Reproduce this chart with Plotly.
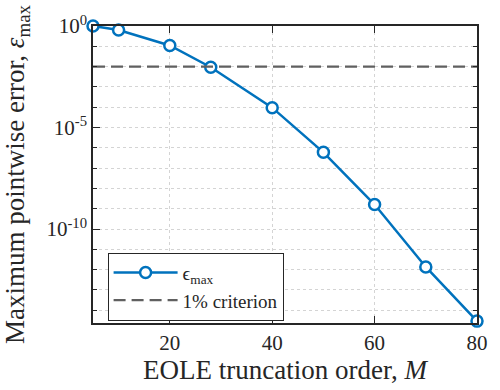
import plotly.graph_objects as go

# Data
M_values = [5, 10, 20, 28, 40, 50, 60, 70, 80]
eps_max = [1.0, 0.64, 0.11, 0.0093, 9.5e-5, 6.0e-7, 1.6e-9, 1.35e-12, 2.9e-15]
criterion = 0.01
x_ticks = [20, 40, 60, 80]
y_major = [1, 1e-5, 1e-10]
y_major_text = ["10<sup>0</sup>", "10<sup>-5</sup>", "10<sup>-10</sup>"]
y_minor = [10.0 ** (-k) for k in range(1, 15) if k not in (5, 10)]

BLUE = "#0072BD"
GRID = "#d4d4d4"
INK = "#262626"
FONT = "Liberation Serif"

fig = go.Figure()
fig.add_trace(go.Scatter(
    x=M_values, y=eps_max, mode="lines+markers",
    name="\u03f5<sub>max</sub>",
    line=dict(color=BLUE, width=2.5),
    marker=dict(symbol="circle", size=11, color="white",
                line=dict(color=BLUE, width=2.5)),
    cliponaxis=False,
))
fig.add_trace(go.Scatter(
    x=[min(M_values), max(M_values)], y=[criterion, criterion],
    mode="lines", name="1% criterion",
    line=dict(color="#606060", width=2.2, dash="12px,6px"),
))

fig.update_layout(
    width=500, height=390,
    margin=dict(l=93, r=15, t=23, b=67),
    paper_bgcolor="white", plot_bgcolor="white",
    font=dict(family=FONT, size=20, color=INK),
    showlegend=True,
    legend=dict(
        x=0.038, y=0.237, xanchor="left", yanchor="top",
        bgcolor="white", bordercolor=INK, borderwidth=1,
        font=dict(family=FONT, size=19, color=INK),
        itemwidth=64, tracegroupgap=0,
    ),
)

fig.update_xaxes(
    range=[5, 80],
    tickvals=x_ticks,
    ticks="inside", ticklen=7, tickwidth=1, tickcolor=INK,
    showline=True, linecolor=INK, linewidth=1.5, mirror="ticks",
    showgrid=True, gridcolor=GRID, griddash="dot", gridwidth=1,
    zeroline=False,
    tickfont=dict(family=FONT, size=21, color=INK),
    title=dict(text="EOLE truncation order, <i>M</i>",
               font=dict(family=FONT, size=27, color=INK), standoff=4),
)
fig.update_yaxes(
    type="log",
    range=[-14.63, 0],
    tickvals=y_major, ticktext=y_major_text,
    ticks="inside", ticklen=7, tickwidth=1, tickcolor=INK,
    showline=True, linecolor=INK, linewidth=1.5, mirror="ticks",
    showgrid=True, gridcolor=GRID, griddash="dot", gridwidth=1,
    zeroline=False,
    tickfont=dict(family=FONT, size=21, color=INK),
    minor=dict(tickvals=y_minor, ticks="inside", ticklen=4, tickcolor=INK,
               showgrid=True, gridcolor=GRID, griddash="dot", gridwidth=1),
    title=dict(text="Maximum pointwise error, <i>\u03b5</i><sub>max</sub>",
               font=dict(family=FONT, size=27, color=INK), standoff=14),
)

fig.write_html("out.html", config={"displayModeBar": False},
               post_script="document.body.style.margin='0';")
